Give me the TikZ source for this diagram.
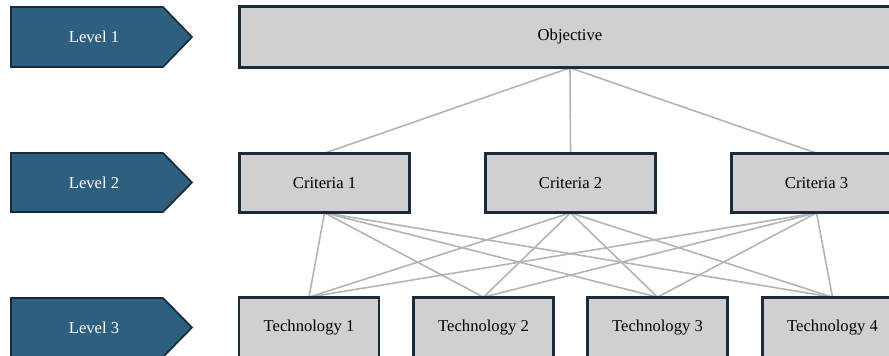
\documentclass[tikz,border=0pt]{standalone}
\usepackage{fontspec}
\setmainfont{Liberation Serif}
\definecolor{lvfill}{HTML}{2F5F7E}
\definecolor{lvborder}{HTML}{182B3B}
\definecolor{boxfill}{HTML}{D0D0D0}
\definecolor{boxborder}{HTML}{1C2B3A}
\definecolor{linkgray}{HTML}{B4B4B4}
\begin{document}
\begin{tikzpicture}[x=1pt,y=-1pt,
  box/.style={draw=boxborder,line width=1.7pt,fill=boxfill,inner sep=0pt,
    font=\fontsize{16.6}{20}\selectfont,text=black},
  lvshape/.style={draw=lvborder,line width=1.7pt,fill=lvfill},
  lvtext/.style={font=\fontsize{16.6}{20}\selectfont,text=white,inner sep=0pt},
  link/.style={draw=linkgray,line width=1.6pt},
  frame/.style={draw=boxborder,line width=1.7pt}]
\path[clip] (0,0) rectangle (889,356);
\fill[white] (0,0) rectangle (889,356);
% level markers
\foreach \t/\b/\n in {7/67/1,153/212/2,298/357/3}{
  \draw[lvshape] (11,\t) -- (163,\t) -- (192,{(\t+\b)/2}) -- (163,\b) -- (11,\b) -- cycle;
  \node[lvtext] (lv\n) at (94,{(\t+\b)/2}) {Level \n};
}
% nodes
\node[box,minimum width=660pt,minimum height=60pt] (obj) at (570,37) {Objective};
\node[box,minimum width=169pt,minimum height=58pt] (c1) at (324.5,183) {Criteria 1};
\node[box,minimum width=169pt,minimum height=58pt] (c2) at (570.5,183) {Criteria 2};
\node[box,minimum width=169pt,minimum height=58pt] (c3) at (816.5,183) {Criteria 3};
\node[box,minimum width=139pt,minimum height=59pt] (t1) at (309,327.5) {Technology 1};
\node[box,minimum width=139pt,minimum height=59pt] (t2) at (483.5,327.5) {Technology 2};
\node[box,minimum width=139pt,minimum height=59pt] (t3) at (657.5,327.5) {Technology 3};
\node[box,minimum width=139pt,minimum height=59pt] (t4) at (832.5,327.5) {Technology 4};
% links
\foreach \c in {c1,c2,c3}{
  \draw[link] (obj.south) -- (\c.north);
  \foreach \t in {t1,t2,t3,t4}{
    \draw[link] (\c.south) -- (\t.north);
  }
}
% redraw borders over link ends
\foreach \n in {obj,c1,c2,c3,t1,t2,t3,t4}{
  \draw[frame] (\n.south west) rectangle (\n.north east);
}
\end{tikzpicture}
\end{document}
